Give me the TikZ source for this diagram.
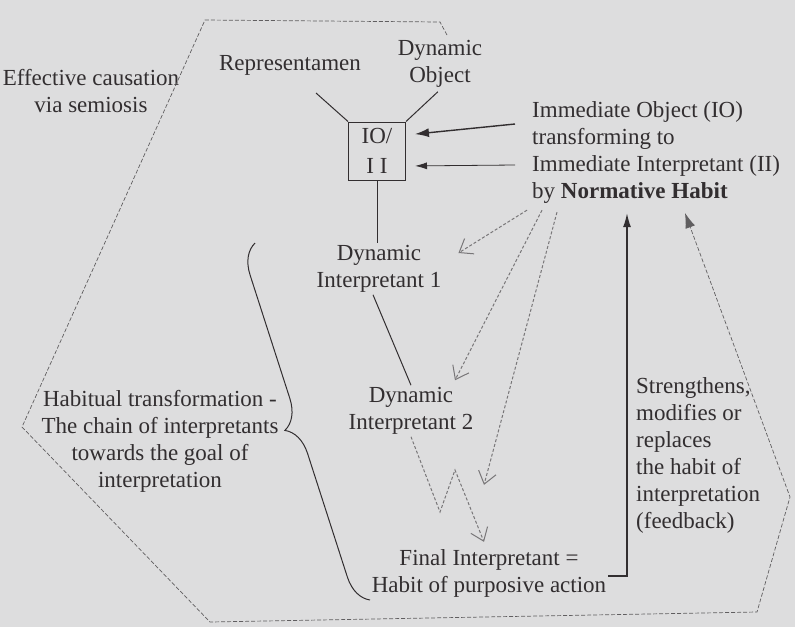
\documentclass[tikz,border=0pt]{standalone}
\usepackage{fontspec}
\setmainfont{Liberation Serif}
\usetikzlibrary{arrows.meta, positioning, calc, decorations.pathreplacing}
\definecolor{paper}{RGB}{221, 221, 222}
\definecolor{ink}{RGB}{50, 46, 48}
\definecolor{faint}{RGB}{120, 118, 120}

\begin{document}
\begin{tikzpicture}[x=1pt, y=-1pt, font=\fontsize{23}{27}\selectfont,
                txtnode/.style={text=ink, align=center, inner sep=2pt},
                link/.style={draw=ink, line width=1pt},
                hint/.style={draw=faint, line width=1pt, dash pattern=on 3pt off 2pt, -{Straight Barb[length=12pt, width=18pt]}},
                rim/.style={draw=faint!80!black, line width=0.7pt, dash pattern=on 4pt off 2pt}]
                \path[use as bounding box, fill=paper] (0,0) rectangle (795,627);

                \node[txtnode] (cause) at (91,91) {Effective causation\\via semiosis};
                \node[txtnode] (repr) at (290,65) {Representamen};
                \node[txtnode] (dynobj) at (440,64) {Dynamic\\Object};
                \node[txtnode, draw=ink, line width=1pt, minimum width=57pt, minimum height=58pt] (ioii) at (377,151) {IO/\\[3pt]I I};
                \node[txtnode, align=left, anchor=west] (immobj) at (530,152) {Immediate Object (IO)\\transforming to\\Immediate Interpretant (II)\\by \textbf{Normative Habit}};
                \node[txtnode] (dyn1) at (379,269) {Dynamic\\Interpretant 1};
                \node[txtnode] (dyn2) at (411,411) {Dynamic\\Interpretant 2};
                \node[txtnode] (final) at (489,573) {Final Interpretant =\\Habit of purposive action};
                \node[txtnode] (chain) at (160,441) {Habitual transformation -\\The chain of interpretants\\towards the goal of\\interpretation};
                \node[txtnode, align=left, anchor=west] (feedback) at (634,455) {Strengthens,\\modifies or\\replaces\\the habit of\\interpretation\\(feedback)};

                \draw[rim, -{Latex[length=15pt, width=10pt]}] (447,35) -- (440,22) -- (205,20) -- (22,427) -- (210,622) -- (757,612) -- (790,497) -- (685,213);

                \coordinate (reptail) at (316,93);
                \draw[link] (reptail) -- (ioii.north west);
                \draw[link, shorten <=3pt] (dynobj.south) -- (ioii.north east);
                \draw[link] (ioii.south) -- (ioii.south |- dyn1.north);
                \draw[link] ([xshift=-6pt]dyn1.south) -- (dyn2.north);

                \draw[link, line width=1.4pt, -{Latex[length=14pt, width=9pt]}, shorten >=9pt] ($(immobj.west)+(-15,-28)$) -- ($(ioii.east)+(0,-16)$);
                \draw[link, line width=0.8pt, -{Latex[length=12pt, width=7pt]}, shorten >=9pt] ($(immobj.west)+(-15,13)$) -- ($(ioii.east)+(0,15)$);

                \draw[hint] ($(immobj.south west)+(-3,5)$) -- ($(dyn1.east)+(15,-16)$);
                \draw[hint] ($(immobj.south west)+(12,5)$) -- ($(dyn2.north)+(44,-5)$);
                \draw[hint] ($(immobj.south west)+(27,7)$) -- ($(final.north)+(-5,-62)$);
                \draw[hint] (dyn2.south) -- (440,512) -- (455,470) -- ($(final.north)+(-5,-5)$);

                \coordinate (fbtip) at ($(immobj.south west)+(97,8)$);
                \draw[link, line width=1.4pt, -{Latex[length=14pt, width=8pt]}] ([yshift=-3pt]final.east) -- ([yshift=-3pt]final.east -| fbtip) -- (fbtip);

                \draw[link, decorate, decoration={brace, amplitude=29pt}] (370,600) -- (255,243);
            \end{tikzpicture}
\end{document}
